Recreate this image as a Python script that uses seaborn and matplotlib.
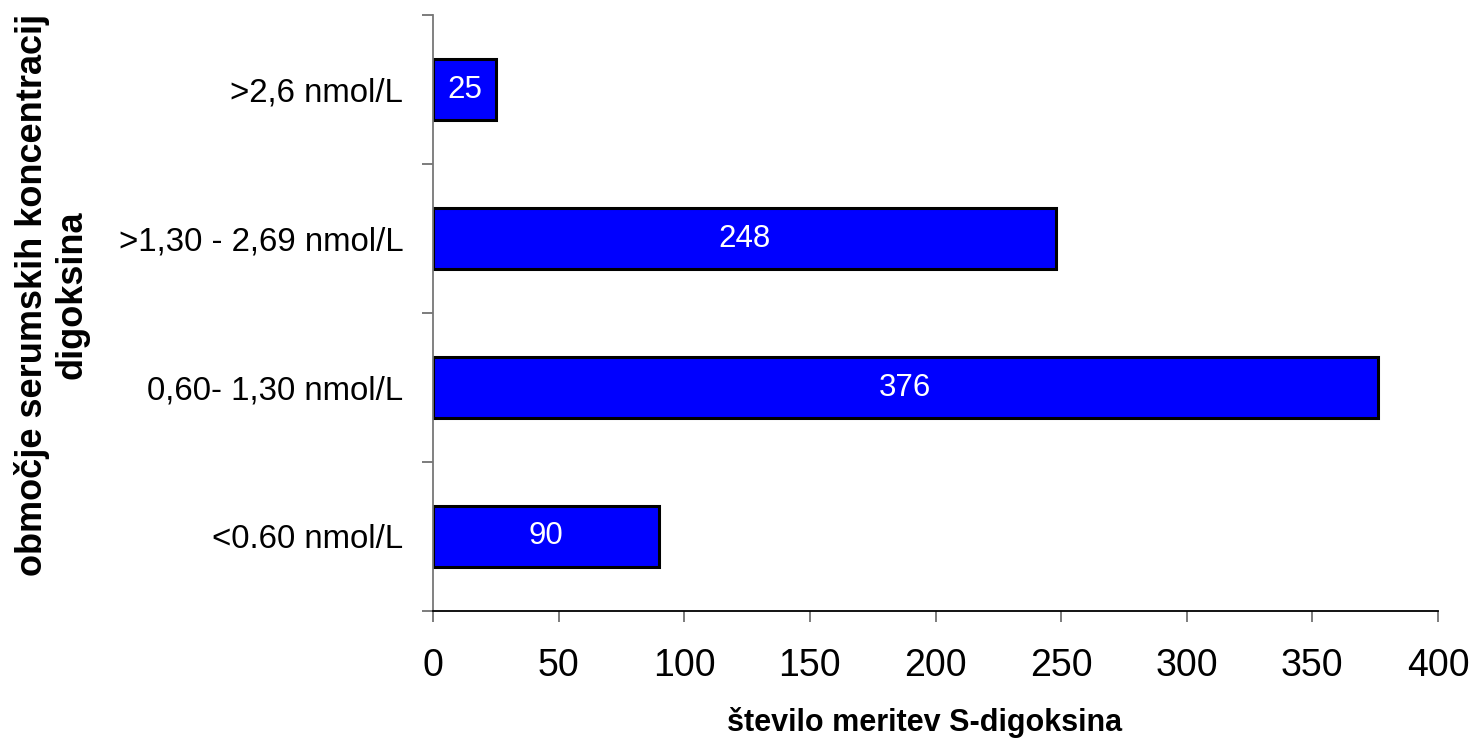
import numpy as np
import pandas as pd
import seaborn as sns
import matplotlib.pyplot as plt
from matplotlib.ticker import FixedLocator

categories = ['>2,6 nmol/L', '>1,30 - 2,69 nmol/L', '0,60- 1,30 nmol/L', '<0.60 nmol/L']
counts = [25, 248, 376, 90]
xticks = [0, 50, 100, 150, 200, 250, 300, 350, 400]

df = pd.DataFrame({'kategorija': categories, 'stevilo': counts})

sns.set_theme(style='white')
plt.rcParams['font.family'] = ['Liberation Sans', 'DejaVu Sans']
plt.rcParams['text.color'] = 'black'
plt.rcParams['xtick.labelcolor'] = 'black'
plt.rcParams['ytick.labelcolor'] = 'black'

fig = plt.figure(figsize=(14.72, 7.43), dpi=100)
ax = fig.add_axes([433 / 1472, 1 - 611 / 743, (1438 - 433) / 1472, (611 - 15) / 743])

sns.barplot(data=df, y='kategorija', x='stevilo', order=categories, orient='h',
            color='#0000FF', saturation=1, width=0.41,
            edgecolor='black', linewidth=2.2, ax=ax)
ax.bar_label(ax.containers[0], label_type='center', color='white', fontsize=22.5)

ax.set_xlim(0, 400)
ax.set_ylim(len(categories) - 0.5, -0.5)
ax.set_xticks(xticks)
ax.set_xticklabels([str(t) for t in xticks], fontsize=27)
ax.set_yticks(range(len(categories)))
ax.set_yticklabels(categories, fontsize=23.8)
ax.yaxis.set_minor_locator(FixedLocator(np.arange(-0.5, len(categories), 1.0)))

ax.tick_params(axis='y', which='major', length=0, pad=21.5)
ax.tick_params(axis='y', which='minor', left=True, length=8, width=1.2, color='#666666')
ax.tick_params(axis='x', which='major', bottom=True, length=8, width=1.2, color='#666666', pad=19)

for s in ['top', 'right']:
    ax.spines[s].set_visible(False)
ax.spines['left'].set_color('#777777')
ax.spines['left'].set_linewidth(1.3)
ax.spines['bottom'].set_color('black')
ax.spines['bottom'].set_linewidth(1.3)

ax.set_xlabel('')
ax.set_ylabel('')
fig.text(925 / 1472, 1 - 722 / 743, 'število meritev S-digoksina',
         ha='center', va='center', fontsize=22, fontweight='bold')
fig.text(52 / 1472, 1 - 295 / 743, 'območje serumskih koncentracij\ndigoksina',
         rotation=90, ha='center', va='center', fontsize=26, fontweight='bold',
         linespacing=1.15)

fig.savefig('out.png', dpi=100)
